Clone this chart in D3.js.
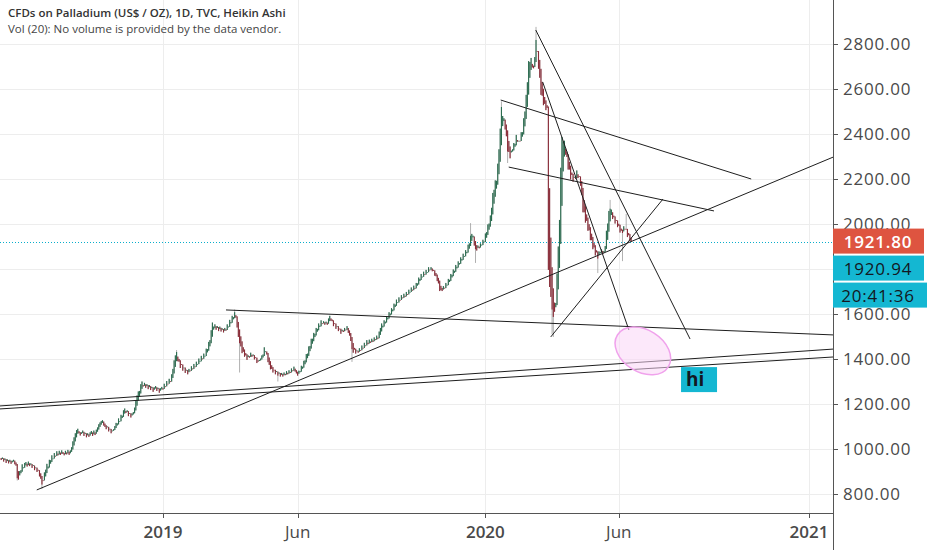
<!DOCTYPE html>
<html lang="en">
<head>
<meta charset="UTF-8">
<title>CFDs on Palladium - Heikin Ashi</title>
<script src="https://d3js.org/d3.v7.min.js"></script>
<style>
    body { margin: 0; background: #ffffff; font-family: "Open Sans", sans-serif; }
    svg { display: block; }
</style>
</head>
<body>
<div id="chart"></div>
<script>
// ---- data ----
const startDate = "2018-07-02";   // first bar, daily bars on weekdays
const firstOpen = 960;

// Heikin Ashi closes, one per bar
const haClose = [
    951, 962, 944, 958, 938, 954, 936, 952, 934, 948,
    952, 932, 926, 870, 864, 902, 906, 932, 918, 938,
    942, 922, 944, 924, 936, 916, 928, 906, 918, 898,
    904, 878, 868, 842, 860, 896, 908, 934, 922, 952,
    950, 972, 958, 982, 968, 990, 972, 992, 974, 994,
    978, 972, 992, 976, 996, 974, 994, 1008, 1034, 1052,
    1070, 1084, 1090, 1070, 1060, 1074, 1082, 1058, 1072, 1052,
    1070, 1054, 1074, 1080, 1058, 1082, 1062, 1086, 1096, 1110,
    1118, 1124, 1128, 1104, 1098, 1088, 1100, 1078, 1090, 1070,
    1082, 1088, 1102, 1116, 1114, 1136, 1124, 1152, 1148, 1172,
    1180, 1160, 1172, 1146, 1160, 1140, 1158, 1164, 1184, 1214,
    1238, 1256, 1258, 1288, 1300, 1278, 1294, 1272, 1288, 1266,
    1284, 1262, 1276, 1254, 1274, 1280, 1258, 1272, 1250, 1270,
    1276, 1264, 1290, 1278, 1302, 1290, 1312, 1298, 1332, 1356,
    1394, 1416, 1431, 1390, 1388, 1360, 1374, 1348, 1362, 1338,
    1352, 1332, 1356, 1346, 1368, 1354, 1378, 1364, 1388, 1378,
    1402, 1390, 1414, 1400, 1424, 1414, 1446, 1444, 1476, 1484,
    1528, 1562, 1544, 1554, 1530, 1546, 1524, 1544, 1522, 1536,
    1518, 1538, 1526, 1554, 1544, 1574, 1564, 1592, 1586, 1608,
    1584, 1540, 1498, 1470, 1456, 1426, 1432, 1410, 1416, 1396,
    1416, 1406, 1428, 1410, 1420, 1398, 1404, 1382, 1388, 1396,
    1402, 1416, 1420, 1452, 1434, 1420, 1386, 1374, 1354, 1356,
    1340, 1352, 1332, 1346, 1326, 1340, 1322, 1338, 1322, 1340,
    1328, 1346, 1332, 1350, 1338, 1358, 1346, 1366, 1344, 1336,
    1326, 1348, 1346, 1370, 1366, 1392, 1394, 1422, 1424, 1456,
    1458, 1490, 1490, 1516, 1512, 1538, 1534, 1558, 1548, 1572,
    1558, 1568, 1552, 1566, 1552, 1580, 1592, 1570, 1568, 1546,
    1556, 1534, 1546, 1524, 1534, 1512, 1530, 1520, 1538, 1528, 1546,
    1516, 1504, 1480, 1444, 1428, 1442, 1424, 1438, 1428, 1448,
    1438, 1460, 1448, 1472, 1460, 1484, 1466, 1486, 1472, 1490,
    1476, 1496, 1484, 1504, 1490, 1522, 1538, 1558, 1548, 1572,
    1566, 1590, 1584, 1608, 1602, 1626, 1620, 1646, 1642, 1664,
    1652, 1674, 1662, 1684, 1670, 1690, 1676, 1698, 1686, 1708,
    1698, 1718, 1704, 1726, 1712, 1738, 1736, 1762, 1756, 1778,
    1766, 1788, 1774, 1796, 1786, 1808, 1796, 1808, 1790, 1792,
    1770, 1768, 1746, 1736, 1702, 1706, 1702, 1724, 1714, 1738,
    1730, 1756, 1752, 1778, 1774, 1798, 1792, 1818, 1810, 1834,
    1826, 1852, 1844, 1868, 1858, 1884, 1876, 1908, 1914, 1948,
    1956, 1948, 1904, 1888, 1882, 1904, 1892, 1914, 1908, 1930,
    1922, 1958, 1964, 1998, 2002, 2038, 2072, 2138, 2152, 2194,
    2192, 2268, 2332, 2424, 2520, 2480, 2470, 2420, 2390, 2322,
    2320, 2292, 2326, 2332, 2360, 2356, 2396, 2366, 2370, 2368, 2408,
    2408, 2470, 2500, 2574, 2630, 2724, 2720, 2738, 2696, 2692,
    2742, 2818, 2768, 2690, 2650, 2574, 2570, 2528, 2534, 2506,
    2516, 1796, 1720, 1676, 1620, 1587, 1610, 1649, 1780, 1900,
    2018, 2250, 2387, 2366, 2370, 2308, 2298, 2242, 2242, 2198,
    2218, 2188, 2210, 2200, 2238, 2204, 2210, 2170, 2130, 2052,
    2052, 2006, 2014, 1970, 1972, 1928, 1928, 1888, 1896, 1860,
    1874, 1846, 1878, 1876, 1888, 1866, 1880, 1902, 1970, 2002,
    2058, 2068, 2064, 2022, 2030, 2002, 2014, 1986, 1992, 1962,
    1970, 1960, 1990, 1978, 1978, 1942, 1950, 1924, 1921.8
];

// wick extremes that stick out past the body: [bar, price]
const wickHigh = [[142, 1440], [189, 1620], [380, 2004], [405, 2545], [433, 2876], [493, 2107], [506, 2045]];
const wickLow = [[13, 860], [33, 822], [193, 1340], [224, 1300], [284, 1387], [384, 1827], [410, 2271],
                 [446, 1510], [447, 1498], [483, 1782], [503, 1835]];

const priceTicks = [800, 1000, 1200, 1400, 1600, 1800, 2000, 2200, 2400, 2600, 2800];
const timeTicks = [
    { date: "2019-01-01", label: "2019", year: true },
    { date: "2019-06-03", label: "Jun", year: false },
    { date: "2020-01-01", label: "2020", year: true },
    { date: "2020-06-01", label: "Jun", year: false },
    { date: "2021-01-01", label: "2021", year: true }
];

const lastPrice = 1921.80;
const secondPrice = 1920.94;
const countdown = "20:41:36";

// trend lines drawn on the chart: [[bar, price], [bar, price]]
const trendLines = [
    [[28.8, 818], [700, 2358]],
    [[-10, 1188], [700, 1454]],
    [[-10, 1175], [700, 1418]],
    [[182, 1618], [700, 1501]],
    [[432.8, 2862], [557.7, 1489]],
    [[438.4, 2631], [508.2, 1529]],
    [[404.4, 2551], [607.2, 2200]],
    [[410.9, 2253], [577.1, 2058]],
    [[444.9, 1498], [535.8, 2111]]
];
const ellipseCenter = [519.5, 1436];
const noteAnchor = [550.4, 1364];
const noteText = "hi";

// ---- layout ----
const width = 932, height = 550;
const plotRight = 833, plotBottom = 513;

function barIndex(dateStr) {
    const start = new Date(startDate + "T00:00:00Z");
    const end = new Date(dateStr + "T00:00:00Z");
    let n = 0;
    for (let t = new Date(start); t < end; t.setUTCDate(t.getUTCDate() + 1)) {
        const wd = t.getUTCDay();
        if (wd !== 0 && wd !== 6) n++;
    }
    return n;
}

const x = d3.scaleLinear()
    .domain([barIndex("2019-01-01"), barIndex("2021-01-01")])
    .range([163, 809]);
const y = d3.scaleLinear().domain([800, 2800]).range([494, 44]);

// heikin ashi bars
const bars = [];
let prevO = firstOpen, prevC = haClose[0];
haClose.forEach((c, i) => {
    const o = i === 0 ? firstOpen : (prevO + prevC) / 2;
    bars.push({ i: i, o: o, c: c, h: Math.max(o, c), l: Math.min(o, c) });
    prevO = o; prevC = c;
});
wickHigh.forEach(([i, p]) => { bars[i].h = Math.max(bars[i].h, p); });
wickLow.forEach(([i, p]) => { bars[i].l = Math.min(bars[i].l, p); });

const svg = d3.select("#chart").append("svg")
    .attr("width", width)
    .attr("height", height);

svg.append("defs").append("clipPath").attr("id", "plot-clip")
    .append("rect").attr("x", 0).attr("y", 0)
    .attr("width", plotRight).attr("height", plotBottom);

// grid
const grid = svg.append("g");
grid.selectAll("line.h").data(priceTicks).enter().append("line")
    .attr("x1", 0).attr("x2", plotRight)
    .attr("y1", d => Math.round(y(d)) + 0.5).attr("y2", d => Math.round(y(d)) + 0.5)
    .attr("stroke", "#ededed");
grid.selectAll("line.v").data(timeTicks).enter().append("line")
    .attr("x1", d => Math.round(x(barIndex(d.date))) + 0.5)
    .attr("x2", d => Math.round(x(barIndex(d.date))) + 0.5)
    .attr("y1", 0).attr("y2", plotBottom)
    .attr("stroke", "#ededed");

const plot = svg.append("g").attr("clip-path", "url(#plot-clip)");

// last price dotted line
const lastY = Math.round(y(lastPrice)) + 0.5;
plot.append("line")
    .attr("x1", 0).attr("x2", plotRight)
    .attr("y1", lastY).attr("y2", lastY)
    .attr("stroke", "#0aaecb").attr("stroke-width", 1)
    .attr("stroke-dasharray", "1,2");

// candles
const up = "#2a6c4f", down = "#8b2c38";
plot.append("g").selectAll("line").data(bars).enter().append("line")
    .attr("x1", d => x(d.i)).attr("x2", d => x(d.i))
    .attr("y1", d => y(d.h)).attr("y2", d => y(d.l))
    .attr("stroke", "#8e8e8e").attr("stroke-width", 0.7);
plot.append("g").selectAll("rect").data(bars).enter().append("rect")
    .attr("x", d => x(d.i) - 0.55)
    .attr("width", 1.1)
    .attr("y", d => y(Math.max(d.o, d.c)))
    .attr("height", d => Math.max(0.8, Math.abs(y(d.o) - y(d.c))))
    .attr("fill", d => d.c >= d.o ? up : down);

// drawings
plot.append("g").selectAll("line").data(trendLines).enter().append("line")
    .attr("x1", d => x(d[0][0])).attr("y1", d => y(d[0][1]))
    .attr("x2", d => x(d[1][0])).attr("y2", d => y(d[1][1]))
    .attr("stroke", "#1e1e1e").attr("stroke-width", 1);

const ex = x(ellipseCenter[0]), ey = y(ellipseCenter[1]);
plot.append("ellipse")
    .attr("cx", 0).attr("cy", 0).attr("rx", 30).attr("ry", 21)
    .attr("transform", `translate(${ex},${ey}) rotate(32)`)
    .attr("fill", "#f9d6f5").attr("fill-opacity", 0.55)
    .attr("stroke", "#f0a2ec").attr("stroke-width", 1.5);

const nx = x(noteAnchor[0]), ny = y(noteAnchor[1]);
plot.append("rect")
    .attr("x", nx).attr("y", ny).attr("width", 36).attr("height", 25)
    .attr("fill", "#14b7d2");
plot.append("text")
    .attr("x", nx + 5).attr("y", ny + 19)
    .attr("font-size", 19).attr("font-weight", 700).attr("fill", "#131722")
    .text(noteText);

// axes
svg.append("line")
    .attr("x1", 0).attr("x2", plotRight).attr("y1", plotBottom + 0.5).attr("y2", plotBottom + 0.5)
    .attr("stroke", "#555");
svg.append("line")
    .attr("x1", plotRight + 0.5).attr("x2", plotRight + 0.5).attr("y1", 0).attr("y2", height)
    .attr("stroke", "#555");

// price tags sit on top of the scale labels, so hide the one fully under them
const tagTop = y(lastPrice) - 13;
const tagBottom = tagTop + 79;
const fmt = d3.format(".2f");
const shownTicks = priceTicks.filter(p => y(p) < tagTop - 2 || y(p) > tagBottom + 2);

const yAxis = svg.append("g");
yAxis.selectAll("line").data(priceTicks).enter().append("line")
    .attr("x1", plotRight).attr("x2", plotRight + 5)
    .attr("y1", d => Math.round(y(d)) + 0.5).attr("y2", d => Math.round(y(d)) + 0.5)
    .attr("stroke", "#555");
yAxis.selectAll("text").data(shownTicks).enter().append("text")
    .attr("x", 843).attr("y", d => y(d) + 6)
    .attr("font-size", 17).attr("letter-spacing", 0.8).attr("fill", "#4a4a4a")
    .text(d => fmt(d));

const xAxis = svg.append("g");
xAxis.selectAll("line").data(timeTicks).enter().append("line")
    .attr("x1", d => Math.round(x(barIndex(d.date))) + 0.5)
    .attr("x2", d => Math.round(x(barIndex(d.date))) + 0.5)
    .attr("y1", plotBottom).attr("y2", plotBottom + 5)
    .attr("stroke", "#555");
xAxis.selectAll("text").data(timeTicks).enter().append("text")
    .attr("x", d => x(barIndex(d.date)))
    .attr("y", 538)
    .attr("text-anchor", "middle")
    .attr("font-size", 17)
    .attr("font-weight", d => d.year ? 600 : 400)
    .attr("fill", "#4a4a4a")
    .text(d => d.label);

const tags = [
    { text: fmt(lastPrice), fill: "#de5440", color: "#ffffff", top: tagTop, w: 91, bold: 600 },
    { text: fmt(secondPrice), fill: "#14b7d2", color: "#131722", top: tagTop + 27, w: 91, bold: 400 },
    { text: countdown, fill: "#14b7d2", color: "#131722", top: tagTop + 54, w: 94, bold: 400 }
];
const tagG = svg.append("g").selectAll("g").data(tags).enter().append("g");
tagG.append("rect")
    .attr("x", plotRight).attr("y", d => d.top)
    .attr("width", d => d.w).attr("height", 25)
    .attr("fill", d => d.fill);
tagG.append("text")
    .attr("x", plotRight + 45).attr("y", d => d.top + 19)
    .attr("text-anchor", "middle")
    .attr("font-size", 17).attr("letter-spacing", 0.8).attr("font-weight", d => d.bold)
    .attr("fill", d => d.color)
    .text(d => d.text);

// legend text
svg.append("text")
    .attr("x", 8).attr("y", 17)
    .attr("font-size", 11.5).attr("font-weight", 600).attr("fill", "#333")
    .text("CFDs on Palladium (US$ / OZ), 1D, TVC, Heikin Ashi");
svg.append("text")
    .attr("x", 8).attr("y", 33)
    .attr("font-size", 11.5).attr("fill", "#444")
    .text("Vol (20): No volume is provided by the data vendor.");
</script>
</body>
</html>
